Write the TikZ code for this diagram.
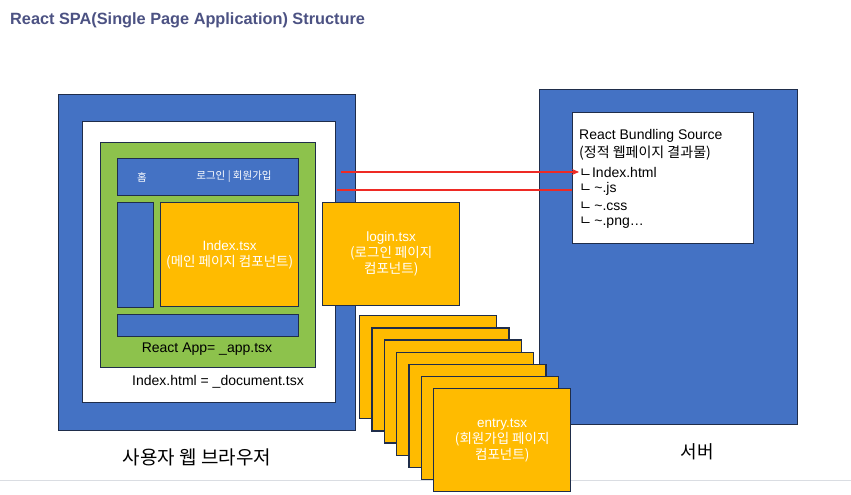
\documentclass[tikz,border=0pt]{standalone}
\usepackage{fontspec}
\setmainfont{Liberation Sans}
\newfontfamily\kr{Noto Sans CJK KR}
\usetikzlibrary{arrows.meta, positioning}
\definecolor{pptblue}{HTML}{4472C4}
\definecolor{pptgreen}{HTML}{8DC24C}
\definecolor{pptorange}{HTML}{FFBB00}
\definecolor{edgenavy}{HTML}{1F2D4A}
\definecolor{titleslate}{HTML}{4C5283}
\definecolor{linkred}{HTML}{EE2A24}
\definecolor{slidegray}{HTML}{DADDE2}
\tikzset{
  blockbox/.style ={rectangle, draw=edgenavy, line width=1.4pt, anchor=north west, inner sep=0pt},
  bluebox/.style  ={blockbox, fill=pptblue},
  whitebox/.style ={blockbox, fill=white},
  greenbox/.style ={blockbox, fill=pptgreen},
  pagebox/.style  ={blockbox, fill=pptorange, text=white, align=center, font=\fontsize{13.5}{16}\selectfont},
  stackbox/.style ={pagebox, minimum width=137pt, minimum height=103pt},
  navtxt/.style   ={text=white, inner sep=0pt, font=\fontsize{10.5}{12}\selectfont},
  capt/.style     ={inner sep=0pt, font=\fontsize{14}{16}\selectfont},
  bigcapt/.style  ={inner sep=0pt, font=\fontsize{19}{22}\selectfont},
  fileline/.style ={anchor=west, inner sep=0pt, font=\fontsize{14}{16}\selectfont},
  linkarrow/.style={-{Stealth[length=7pt, width=6pt]}, line width=2.4pt, color=linkred},
  linkline/.style ={line width=2.4pt, color=linkred},
}
\begin{document}
\begin{tikzpicture}[x=1pt, y=-1pt]
  \useasboundingbox[fill=white] (0,0) rectangle (851,495);
  \draw[slidegray, line width=1pt] (0,480) -- (851,480);
  \node[anchor=west, inner sep=0pt, text=titleslate, font=\bfseries\fontsize{16.3}{19}\selectfont] (title) at (10,20) {React SPA(Single Page Application) Structure};

  % user browser
  \node[bluebox, minimum width=297pt, minimum height=336pt] (browser) at (58,94) {};
  \node[whitebox, minimum width=253pt, minimum height=281pt] (document) at (82,121) {};
  \node[greenbox, minimum width=215pt, minimum height=225pt] (reactapp) at (100,142) {};
  \node[bluebox, minimum width=181pt, minimum height=37pt] (navbar) at (117,158) {};
  \node[bluebox, minimum width=36pt, minimum height=105pt] (sidebar) at (117,202) {};
  \node[pagebox, minimum width=138pt, minimum height=104pt] (indexpage) at (160,202) {Index.tsx\\{\kr (메인 페이지 컴포넌트)}};
  \node[bluebox, minimum width=181pt, minimum height=22pt] (footer) at (117,314) {};
  \node[navtxt] (homelink) at (142,177) {\kr 홈};
  \node[navtxt] (authlink) at (234,177) {\kr 로그인 | 회원가입};
  \node[capt] (applbl) at (207,349) {React App= \_app.tsx};
  \node[capt] (doclbl) at (218,382) {Index.html = \_document.tsx};
  \node[bigcapt] (browserlbl) at (197,457) {\kr 사용자 웹 브라우저};

  % server
  \node[bluebox, minimum width=258pt, minimum height=335pt] (server) at (539,89) {};
  \node[whitebox, minimum width=181pt, minimum height=131pt] (bundle) at (572,112) {};
  \node[fileline] (bundletitle) at (579,136) {React Bundling Source};
  \node[fileline] (bundlesub) at (579,153) {\kr (정적 웹페이지 결과물)};
  \node[fileline] (idxline) at (579,172) {{\kr ㄴ}Index.html};
  \node[fileline] (jsline) at (579,189) {{\kr ㄴ}\,\textasciitilde.js};
  \node[fileline] (cssline) at (579,206) {{\kr ㄴ}\,\textasciitilde.css};
  \node[fileline] (pngline) at (579,223) {{\kr ㄴ}\,\textasciitilde.png\dots};
  \node[bigcapt, font=\fontsize{18}{22}\selectfont] (serverlbl) at (697,452) {\kr 서버};

  % pages
  \node[pagebox, minimum width=137pt, minimum height=103pt] (loginpage) at (322,202) {login.tsx\\{\kr (로그인 페이지}\\{\kr 컴포넌트)}};
  \foreach \i in {0,...,5}
    \node[stackbox] (entry\i) at (359+12.33*\i, 315+12.17*\i) {};
  \node[stackbox] (entrypage) at (433,388) {entry.tsx\\{\kr (회원가입 페이지}\\{\kr 컴포넌트)}};

  % links
  \coordinate (src1) at (341,172);
  \coordinate (src2) at (337,190);
  \draw[linkarrow] (src1) -- (idxline.west);
  \draw[linkline] (src2) -- (src2 -| bundle.west);
\end{tikzpicture}
\end{document}
